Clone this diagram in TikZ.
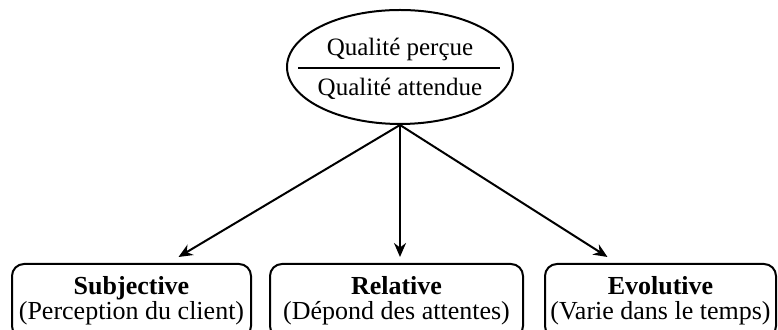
\documentclass[tikz,border=0pt]{standalone}
\usepackage{fontspec}
\setmainfont{Liberation Serif}
\usetikzlibrary{shapes.geometric,arrows.meta}

\begin{document}
\begin{tikzpicture}
[x=0.5pt,y=-0.5pt,line width=1pt,%
  ratio/.style={inner sep=0pt,font=\fontsize{12.5}{13}\selectfont},%
  trait/.style={draw,rounded corners=6pt,align=center,inner sep=0pt,%
    minimum height=37pt,font=\fontsize{13}{12.5}\selectfont},%
  fleche/.style={-{Stealth[length=7pt,width=6pt]}}]
\useasboundingbox (0,0) rectangle (778,330);
\node[draw,ellipse,inner sep=0pt,minimum width=113pt,minimum height=57pt] (quality) at (400,67) {};
\node[ratio] (perceived) at (400,49) {Qualité perçue};
\node[ratio] (expected) at (400,89) {Qualité attendue};
\coordinate (barL) at (298,68);
\coordinate (barR) at (500,68);
\draw (barL) -- (barR);
\node[trait,minimum width=119.5pt] (subjective) at (131.5,301)
  {\textbf{Subjective}\\(Perception du client)};
\node[trait,minimum width=126.5pt] (relative) at (396.5,301)
  {\textbf{Relative}\\(Dépond des attentes)};
\node[trait,minimum width=115.5pt] (evolutive) at (660.5,301)
  {\textbf{Evolutive}\\(Varie dans le temps)};
\draw[fleche] (quality.south) -- ([xshift=23.5pt,yshift=3pt]subjective.north);
\draw[fleche] (quality.south) -- ([xshift=1.75pt,yshift=3pt]relative.north);
\draw[fleche] (quality.south) -- ([xshift=-26.5pt,yshift=3pt]evolutive.north);
\end{tikzpicture}
\end{document}
